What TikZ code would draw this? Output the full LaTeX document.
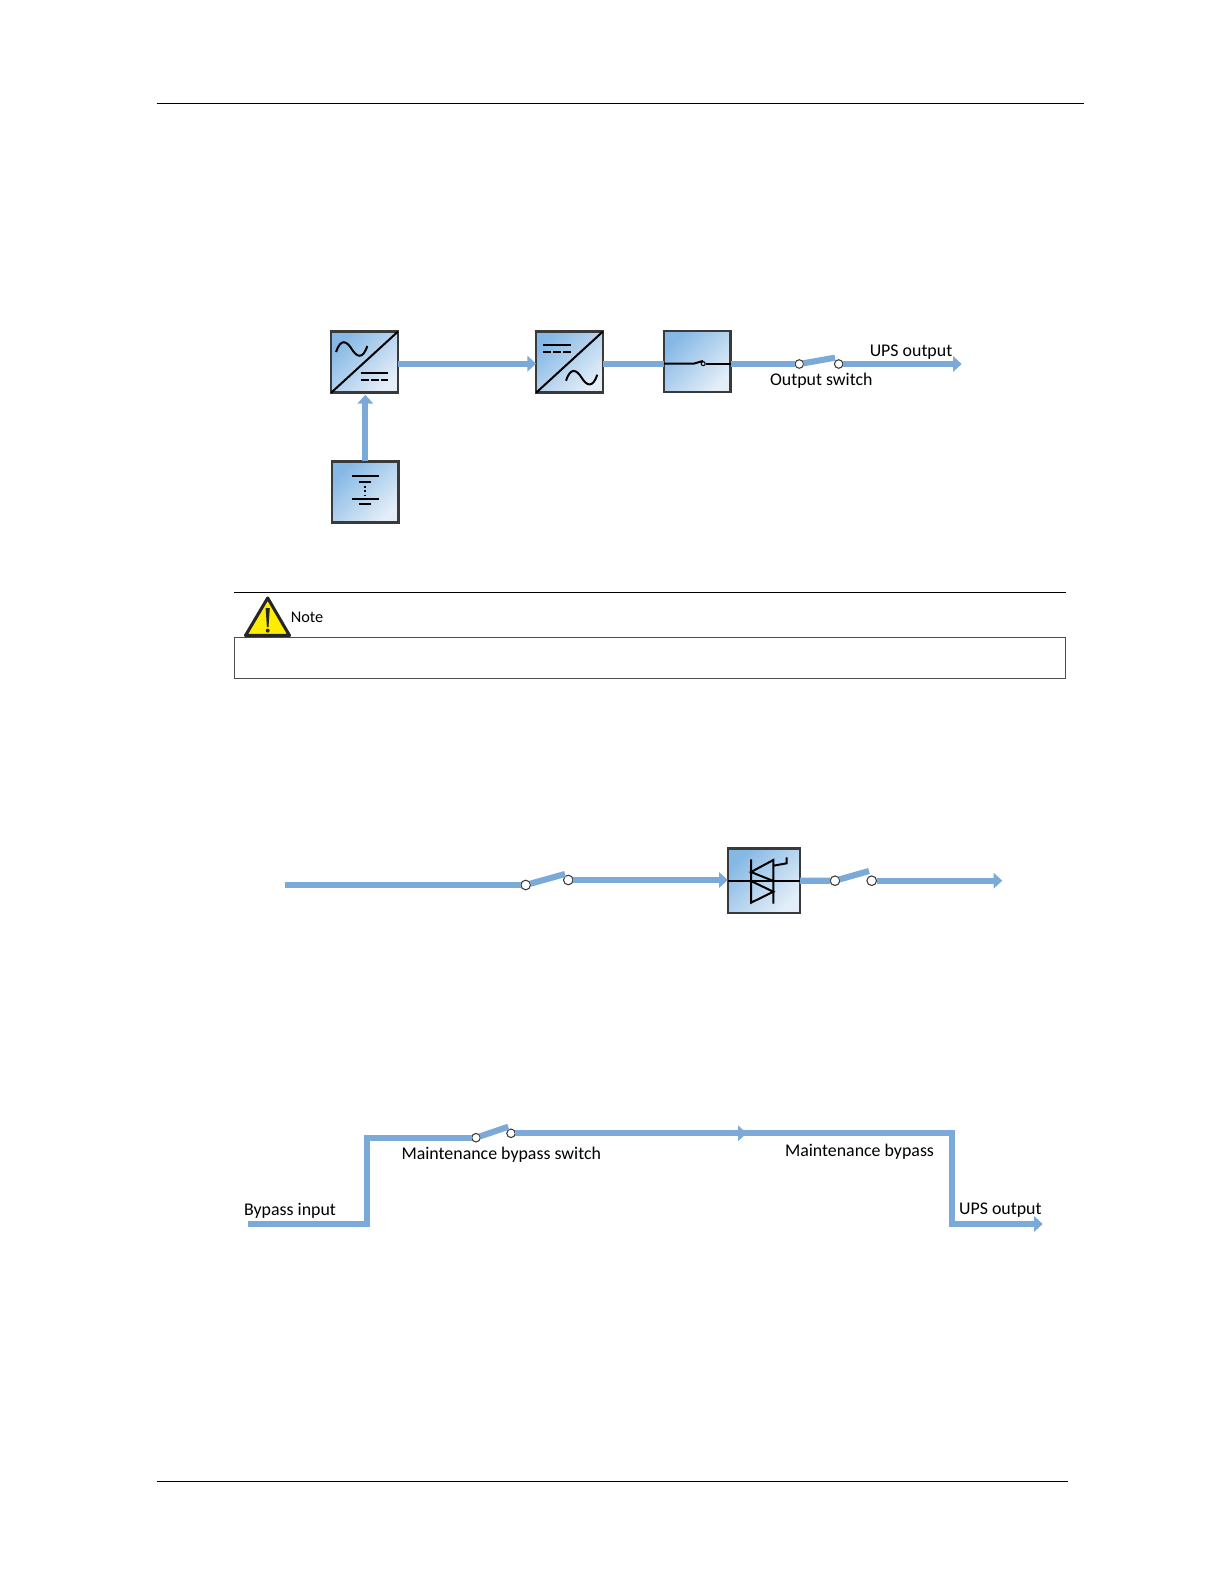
\documentclass[tikz,border=0pt]{standalone}
\usepackage{fontspec}
\setmainfont{Carlito}
\usetikzlibrary{positioning}
\usetikzlibrary{calc}
\usetikzlibrary{arrows.meta}
\definecolor{flowblue}{HTML}{7BAAD9}
\definecolor{boxdark}{HTML}{85B8E5}
\definecolor{boxlight}{HTML}{E4EEF8}
\definecolor{boxedge}{HTML}{3A3A3A}
\tikzset{
    unitbox/.style={draw=boxedge, line width=1.9pt, inner sep=0pt, outer sep=0pt, minimum width=50pt, minimum height=45.8pt, left color=boxdark, right color=boxlight, shading angle=45},
    flow/.style={draw=flowblue, line width=4.6pt},
    flowarrow/.style={flow, -{Triangle[length=6.5pt,width=11.5pt]}},
    contact/.style={draw=boxedge, fill=white, circle, line width=0.8pt, inner sep=0pt, outer sep=0pt, minimum size=6.4pt},
    symline/.style={draw=black, line width=1.5pt},
    rule/.style={draw=black, line width=0.6pt},
    lbl/.style={anchor=base, inner sep=0pt, font=\fontsize{13.4}{15}\selectfont},
    sinewave/.pic={\draw[symline] (-15.6,3) .. controls (-11,-11) and (-5,-8) .. (0,0) .. controls (5,8) and (11,11) .. (15.6,-3);}
}
\begin{document}
\begin{tikzpicture}[x=0.75pt, y=-0.75pt]
    \useasboundingbox (0,0) rectangle (1224,1584);

    % page rules
    \coordinate (tl) at (156.5,103);
    \coordinate (tr) at (1083.6,103);
    \coordinate (bl) at (156.5,1481.6);
    \coordinate (br) at (1067.5,1481.6);
    \draw[rule] (tl) -- (tr);
    \draw[rule] (bl) -- (br);

    % first chain
    \node [unitbox] (rect) at (364.5,362.2) {};
    \node [unitbox, right=103.7pt of rect] (inv) {};
    \node [unitbox, right=45.9pt of inv, yshift=0.5pt] (stsw) {};
    \node [unitbox, below=51.4pt of rect, xshift=0.6pt] (batt) {};
    \node [contact] (osa) at (799.3,364) {};
    \node [contact] (osb) at (838.7,364) {};
    \coordinate (osend) at (835,357.7);
    \coordinate (upsend) at (961.7,364);

    \draw[flowarrow] ([yshift=-1.1pt]rect.east) -- ([yshift=-1.1pt]inv.west);
    \draw[flow] ([yshift=-1.1pt]inv.east) -- ([yshift=-1.6pt]stsw.west);
    \draw[flow] (stsw.east |- osa) -- (osa);
    \draw[flow] (osa) -- (osend);
    \draw[flowarrow] (osb) -- (upsend);
    \draw[flowarrow] (batt.north) -- ([yshift=-1.6pt]batt.north |- rect.south);

    \draw[symline] (rect.south west) -- (rect.north east);
    \path (rect.center) ++(-12.8,-13.2) pic {sinewave};
    \draw[symline] ($(rect.center)+(-3.8,11.1)$) -- ++(27.6,0);
    \draw[symline, dash pattern=on 6pt off 1.6pt] ($(rect.center)+(-3.8,18.1)$) -- ++(27.6,0);

    \draw[symline] (inv.south west) -- (inv.north east);
    \draw[symline] ($(inv.center)+(-26.3,-16.9)$) -- ++(28,0);
    \draw[symline, dash pattern=on 6pt off 1.6pt] ($(inv.center)+(-26.3,-9.9)$) -- ++(28,0);
    \path (inv.center) ++(12.2,15.5) pic {sinewave};

    \draw[symline] ([yshift=-1.6pt]stsw.west) -- ++(29.6,0) -- ++(9.4,-2.7);
    \node [draw=black, circle, line width=0.8pt, inner sep=0pt, minimum size=3pt, right=27.5pt of stsw.west, yshift=-1.6pt] (stc) {};
    \draw[symline] (stc) -- ([yshift=-1.6pt]stsw.east);

    \draw[symline] ($(batt.center)+(-13,-15.9)$) -- ++(27,0);
    \draw[symline] ($(batt.center)+(-6,-10.2)$) -- ++(11.7,0);
    \draw[symline, dotted] ($(batt.center)+(0,-6.2)$) -- ++(0,10);
    \draw[symline] ($(batt.center)+(-13.3,7.1)$) -- ++(27.3,0);
    \draw[symline] ($(batt.center)+(-6,12.5)$) -- ++(11.7,0);

    \node [lbl] (upsa) at (911,356.7) {UPS output};
    \node [lbl] (oslbl) at (821.3,385.3) {Output switch};

    % note
    \coordinate (nl) at (234,592.3);
    \coordinate (nr) at (1065.6,592.3);
    \draw[rule] (nl) -- (nr);
    \node [draw=black!70, line width=0.6pt, minimum width=623.7pt, minimum height=30.5pt, inner sep=0pt, outer sep=0pt, anchor=north west] (notebox) at (234,637.3) {};
    \draw[draw=black!85, line width=2.3pt, line join=round, fill=yellow!95!orange] (267.7,598) -- (289.5,635.5) -- (245.5,635.5) -- cycle;
    \fill[black!85] (265.6,608) -- (269.8,608) -- (268.5,627) -- (266.9,627) -- cycle;
    \fill[black!85] (267.7,630.6) circle (2);
    \node [lbl, font=\fontsize{12.2}{14}\selectfont] (notelbl) at (307,622.4) {Note};

    % second chain
    \node [unitbox, minimum width=54pt, minimum height=48.5pt] (scr) at (763.8,880.8) {};
    \coordinate (bypin) at (284.8,885);
    \node [contact, minimum size=7.2pt] (bsa) at (525.7,885) {};
    \node [contact, minimum size=7.2pt] (bsb) at (568.3,880) {};
    \coordinate (bsend) at (565,874);
    \node [contact, minimum size=7.2pt] (csa) at (835,880.7) {};
    \node [contact, minimum size=7.2pt] (csb) at (871.7,880.7) {};
    \coordinate (csend) at (869,871);
    \coordinate (scrend) at (1002.3,880.7);

    \draw[flow] (bypin) -- (bsa);
    \draw[flow] (bsa) -- (bsend);
    \draw[flowarrow] (bsb) -- (scr.west |- bsb);
    \draw[flow] (scr.east) -- (csa);
    \draw[flow] (csa) -- (csend);
    \draw[flowarrow] (csb) -- (scrend);

    \draw[symline] (scr.west) -- (scr.east);
    \draw[symline, line join=miter] (751,859.3) -- (751,902.7) -- (773.3,891.7) -- (751,881);
    \draw[symline, line join=miter] (773.3,903.7) -- (773.3,860) -- (751,872) -- (773.3,881);
    \draw[symline] (773.3,865.7) -- (786.7,863.3) -- (786.7,857.3);

    % third chain
    \coordinate (mbin) at (247.7,1224);
    \coordinate (mbup) at (367.3,1224);
    \coordinate (mbtop) at (367.3,1137.7);
    \node [contact] (msa) at (476,1137.7) {};
    \node [contact] (msb) at (511,1133.3) {};
    \coordinate (msend) at (508.3,1126.7);
    \coordinate (mbmid) at (746.7,1133.3);
    \coordinate (mbnext) at (742,1133.3);
    \coordinate (mbcorner) at (952.3,1133.3);
    \coordinate (mbdown) at (952.3,1224);
    \coordinate (mbout) at (1042.7,1224);

    \draw[flow, line join=miter] (mbin) -- (mbup) -- (mbtop) -- (msa);
    \draw[flow] (msa) -- (msend);
    \draw[flowarrow] (msb) -- (mbmid);
    \draw[flowarrow, line join=miter] (mbnext) -- (mbcorner) -- (mbdown) -- (mbout);

    \node [lbl] (mslbl) at (501.3,1159.6) {Maintenance bypass switch};
    \node [lbl] (mblbl) at (859.5,1156.6) {Maintenance bypass};
    \node [lbl] (bilbl) at (290,1215.3) {Bypass input};
    \node [lbl] (upsb) at (1000.3,1214.9) {UPS output};
\end{tikzpicture}
\end{document}
